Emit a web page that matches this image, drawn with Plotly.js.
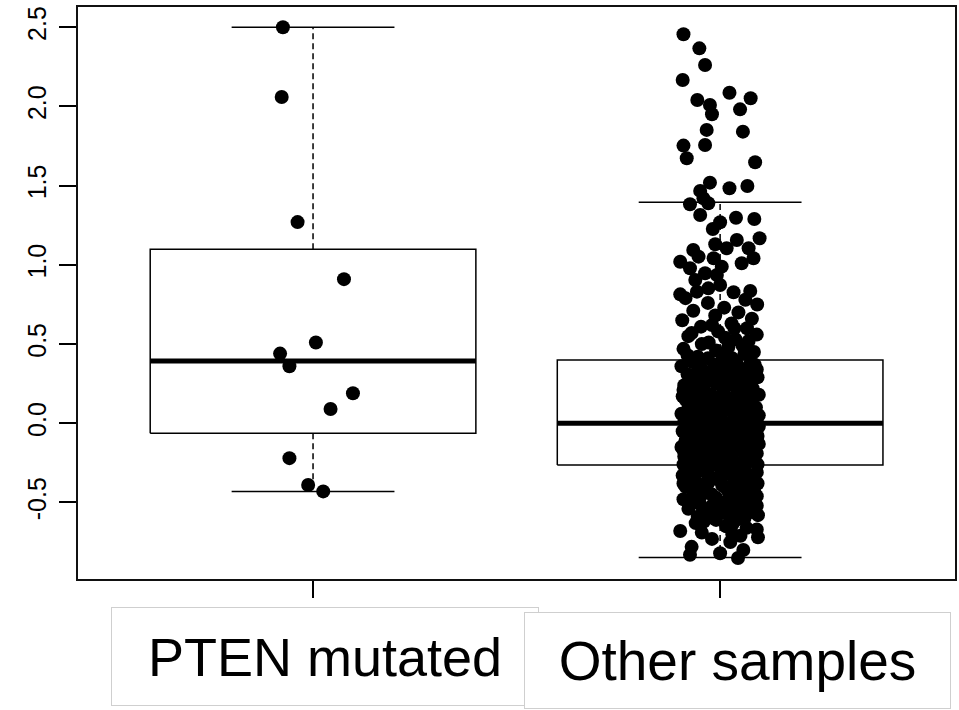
<!DOCTYPE html>
<html>
<head>
<meta charset="utf-8">
<script src="https://cdn.plot.ly/plotly-3.0.1.min.js"></script>
<style>
  html, body { margin: 0; padding: 0; background: #ffffff; }
  #chart { width: 959px; height: 710px; }
</style>
</head>
<body>
<div id="chart"></div>
<script>
// ---- categories ----
const groups = ['PTEN mutated', 'Other samples'];

// ---- box statistics (per group) ----
const boxQ1 = [-0.063, -0.263];
const boxMedian = [0.393, 0.0];
const boxQ3 = [1.098, 0.40];
const whiskerLow = [-0.431, -0.848];
const whiskerHigh = [2.50, 1.395];

// ---- PTEN mutated samples (values and horizontal jitter) ----
const ptenValues = [2.50, 2.06, 1.27, 0.91, 0.51, 0.44, 0.36, 0.19, 0.09, -0.22, -0.39, -0.43];
const ptenJitter = [-0.074, -0.077, -0.038, 0.076, 0.007, -0.081, -0.058, 0.098, 0.043, -0.058, -0.012, 0.025];

// ---- Other samples (values and horizontal jitter) ----
const otherValues = [
  2.456, 2.367, 2.262, 2.167, 2.087, 2.052, 2.041, 2.009, 1.982, 1.951,
  1.852, 1.841, 1.753, 1.757, 1.673, 1.648, 1.519, 1.467, 1.484, 1.498,
  1.420, 1.383, 1.389, 1.315, 1.269, 1.298, 1.290, 1.227, 1.157, 1.168,
  1.130, 1.094, 1.105, 1.105, 1.020, 1.052, 1.042, 0.989, 1.042, 1.010,
  0.979, 0.947, 0.936, 0.905, 0.873, 0.814, 0.831, 0.827, 0.835, 0.852,
  0.79, 0.78, 0.76, 0.75, 0.73, 0.71, 0.70, 0.68, 0.66, 0.65,
  0.63, 0.61, 0.60, 0.58, 0.56, 0.55, 0.53, 0.51, 0.49, 0.47,
  0.45, 0.43, 0.42, 0.41,
  0.39, 0.38, 0.37, 0.37, 0.36, 0.35, 0.34, 0.33, 0.32, 0.31,
  0.30, 0.29, 0.29, 0.28, 0.27, 0.26, 0.25, 0.24, 0.24, 0.23,
  0.22, 0.21, 0.20, 0.19, 0.18, 0.18, 0.17, 0.16, 0.15, 0.14,
  0.13, 0.12, 0.12, 0.11, 0.10, 0.09, 0.08, 0.08, 0.07, 0.06,
  0.06, 0.05, 0.04, 0.04, 0.03, 0.02, 0.02, 0.01, 0.01, 0.00,
  0.00, 0.34, 0.27, 0.21, 0.16, 0.10, 0.05, 0.31, 0.14, 0.07,
  0.19,
  -0.01, -0.01, -0.02, -0.03, -0.03, -0.04, -0.05, -0.05, -0.06, -0.07,
  -0.07, -0.08, -0.09, -0.09, -0.10, -0.11, -0.11, -0.12, -0.13, -0.13,
  -0.14, -0.15, -0.15, -0.16, -0.17, -0.17, -0.18, -0.19, -0.19, -0.20,
  -0.21, -0.21, -0.22, -0.23, -0.23, -0.24, -0.25, -0.25, -0.26, -0.26,
  -0.27, -0.27, -0.04, -0.08, -0.12, -0.16, -0.20, -0.24, -0.06, -0.10,
  -0.14, -0.18, -0.22, -0.02, -0.09, -0.17, -0.26, -0.11, -0.07, -0.13,
  -0.28, -0.29, -0.30, -0.31, -0.31, -0.32, -0.33, -0.34, -0.35, -0.36,
  -0.37, -0.38, -0.39, -0.40, -0.41, -0.42, -0.43, -0.44, -0.45, -0.46,
  -0.47, -0.48, -0.49, -0.50, -0.51, -0.52, -0.53, -0.54, -0.55, -0.57,
  -0.58, -0.58, -0.60, -0.61, -0.63, -0.65, -0.67, -0.68, -0.70, -0.72,
  -0.73, -0.75, -0.78, -0.80, -0.82, -0.83, -0.85, -0.35, -0.40, -0.44,
  -0.48, -0.52, -0.56, -0.62, -0.33, -0.38, -0.46, -0.29,
  0.62, 0.60, 0.57, 0.54, 0.52, 0.50, 0.48, 0.46, 0.44, 0.43,
  0.41, 0.39, 0.38, 0.36, 0.35, 0.33, 0.32, 0.30, 0.28, 0.27,
  0.25, 0.24, 0.22, 0.21, 0.19, 0.18, 0.16, 0.15, 0.14, 0.12,
  0.11, 0.09, 0.08, 0.07, 0.05, 0.04, 0.03, 0.01, 0.00, -0.01,
  -0.02, -0.04, -0.05, -0.06, -0.08, -0.09, -0.10, -0.12, -0.13, -0.14,
  -0.16, -0.17, -0.18, -0.20, -0.21, -0.22, -0.24, -0.25, -0.26, -0.28,
  -0.29, -0.30, -0.32, -0.33, -0.34, -0.36, -0.37, -0.38, -0.40, -0.41,
  -0.42, -0.43, -0.45, -0.46, -0.47, -0.49, -0.50, -0.51, -0.52, -0.54,
  -0.55, -0.56, -0.57, -0.59, -0.60, -0.61, -0.64, -0.66, -0.69, -0.71
];
const otherJitter = [
  -0.090, -0.051, -0.037, -0.092, 0.023, 0.075, -0.056, -0.025, 0.049, -0.020,
  -0.033, 0.056, -0.090, -0.037, -0.082, 0.086, -0.025, -0.049, 0.023, 0.067,
  -0.041, -0.074, -0.029, -0.049, 0.000, 0.039, 0.084, -0.018, 0.041, 0.097,
  -0.012, -0.066, 0.070, 0.016, -0.098, -0.053, -0.016, 0.004, 0.082, 0.053,
  -0.074, -0.037, -0.008, -0.061, 0.000, -0.098, -0.057, 0.033, 0.074, -0.029,
  -0.085, 0.062, -0.030, 0.091, 0.010, -0.066, 0.045, -0.012, 0.078, -0.093,
  0.028, -0.047, 0.066, -0.005, 0.090, -0.078, 0.038, -0.028, 0.055, -0.090,
  0.083, 0.005, -0.055, 0.030,
  -0.070, 0.040, -0.015, 0.085, -0.095, 0.020, -0.045, 0.065, 0.000, -0.080,
  0.050, -0.030, 0.092, 0.015, -0.060, 0.070, -0.010, -0.088, 0.035, -0.040,
  0.080, 0.008, -0.068, 0.055, -0.022, 0.095, -0.092, 0.028, -0.050, 0.072,
  -0.005, -0.078, 0.045, -0.032, 0.088, 0.012, -0.062, 0.060, -0.018, -0.095,
  0.033, -0.045, 0.078, 0.002, -0.075, 0.050, -0.028, 0.090, -0.088, 0.018,
  -0.055, 0.090, 0.048, -0.090, -0.012, -0.058, 0.095, 0.028, 0.020, 0.082,
  -0.070,
  0.065, -0.035, 0.010, -0.080, 0.085, 0.040, -0.020, -0.092, 0.058, 0.000,
  -0.065, 0.092, 0.025, -0.042, 0.070, -0.085, 0.008, -0.030, 0.050, 0.095,
  -0.060, 0.018, -0.095, 0.078, -0.015, 0.040, -0.072, 0.090, 0.002, -0.048,
  0.062, -0.088, 0.028, -0.025, 0.082, -0.062, 0.048, 0.000, -0.090, 0.092,
  -0.035, 0.030, -0.055, 0.035, 0.085, -0.040, 0.015, 0.072, -0.008, -0.070,
  0.060, 0.022, -0.005, 0.095, 0.080, -0.090, -0.010, 0.045, 0.052, -0.020,
  0.060, -0.075, 0.015, 0.090, -0.030, 0.045, -0.092, 0.075, -0.010, 0.035,
  -0.060, 0.092, 0.005, -0.085, 0.055, -0.035, 0.020, 0.085, -0.065, 0.040,
  -0.010, -0.090, 0.068, 0.010, -0.050, 0.090, 0.030, -0.078, 0.000, 0.060,
  -0.035, 0.093, -0.015, 0.040, -0.060, 0.015, 0.090, -0.098, 0.030, 0.093,
  -0.020, 0.025, -0.070, 0.057, 0.000, -0.074, 0.044, 0.060, 0.040, -0.040,
  0.030, -0.020, 0.045, -0.040, 0.000, -0.030, 0.070, 0.030,
  -0.020, 0.035, -0.070, 0.012, 0.070, -0.045, 0.020, -0.010, 0.060, -0.080,
  -0.030, 0.005, 0.075, -0.055, 0.048, -0.020, 0.088, -0.072, 0.032, -0.040,
  0.062, 0.010, -0.060, 0.042, -0.035, 0.072, 0.000, -0.085, 0.052, 0.025,
  -0.045, 0.068, -0.010, -0.080, 0.038, -0.060, 0.065, -0.015, 0.080, -0.075,
  0.042, 0.015, 0.075, -0.045, 0.055, -0.080, 0.022, -0.010, 0.068, -0.075,
  0.040, -0.045, 0.060, -0.018, 0.085, -0.068, 0.010, -0.040, 0.060, -0.085,
  0.042, -0.048, 0.015, 0.070, -0.065, -0.030, 0.050, -0.090, 0.010, 0.072,
  -0.060, 0.045, -0.020, 0.090, -0.050, 0.030, -0.075, 0.060, -0.005, 0.040,
  -0.040, 0.075, 0.015, -0.055, 0.060, -0.010, 0.030, 0.065, -0.045, 0.050
];

// ---- axis ticks ----
const yTickVals = [-0.5, 0, 0.5, 1, 1.5, 2, 2.5];
const yTickText = ['-0.5', '0.0', '0.5', '1.0', '1.5', '2.0', '2.5'];

// ---- build traces ----
const BOX_HALF = 0.4, CAP_HALF = 0.2;
const traces = [];
groups.forEach((g, i) => {
  const c = i + 1;
  traces.push({ type: 'scatter', mode: 'lines', hoverinfo: 'skip', showlegend: false,
    x: [c, c, null, c, c], y: [boxQ3[i], whiskerHigh[i], null, boxQ1[i], whiskerLow[i]],
    line: { color: '#000', width: 1.5, dash: '6px,4px' } });
  traces.push({ type: 'scatter', mode: 'lines', hoverinfo: 'skip', showlegend: false,
    x: [c - CAP_HALF, c + CAP_HALF, null, c - CAP_HALF, c + CAP_HALF],
    y: [whiskerHigh[i], whiskerHigh[i], null, whiskerLow[i], whiskerLow[i]],
    line: { color: '#000', width: 1.5 } });
  traces.push({ type: 'scatter', mode: 'lines', hoverinfo: 'skip', showlegend: false,
    x: [c - BOX_HALF, c + BOX_HALF, c + BOX_HALF, c - BOX_HALF, c - BOX_HALF],
    y: [boxQ1[i], boxQ1[i], boxQ3[i], boxQ3[i], boxQ1[i]],
    line: { color: '#000', width: 1.5 } });
  traces.push({ type: 'scatter', mode: 'lines', hoverinfo: 'skip', showlegend: false,
    x: [c - BOX_HALF, c + BOX_HALF], y: [boxMedian[i], boxMedian[i]],
    line: { color: '#000', width: 5 } });
});

const pointSets = [[ptenValues, ptenJitter], [otherValues, otherJitter]];
pointSets.forEach(([vals, jit], i) => {
  const n = Math.min(vals.length, jit.length);
  traces.push({ type: 'scatter', mode: 'markers', showlegend: false, name: groups[i],
    x: vals.slice(0, n).map((v, k) => i + 1 + jit[k]), y: vals.slice(0, n),
    marker: { color: '#000', size: 14 } });
});

const fontFam = '"Liberation Sans", Arial, Helvetica, sans-serif';
const layout = {
  width: 959, height: 710,
  margin: { l: 78, r: 4, t: 7, b: 131 },
  paper_bgcolor: '#fff', plot_bgcolor: '#fff',
  font: { family: fontFam, color: '#000' },
  showlegend: false,
  xaxis: {
    range: [0.4226, 2.577], tickvals: [1, 2], showticklabels: false,
    ticks: 'outside', ticklen: 17, tickwidth: 1.5, tickcolor: '#000',
    showline: true, linecolor: '#111', linewidth: 2, mirror: true,
    showgrid: false, zeroline: false, fixedrange: true
  },
  yaxis: {
    range: [-0.983, 2.628], tickvals: yTickVals, ticktext: yTickText,
    tickangle: -90, tickfont: { size: 25, family: fontFam, color: '#000' },
    ticklabelstandoff: 3,
    ticks: 'outside', ticklen: 17, tickwidth: 2, tickcolor: '#000',
    showline: true, linecolor: '#111', linewidth: 2, mirror: true,
    showgrid: false, zeroline: false, fixedrange: true
  },
  annotations: [
    { text: groups[0], xref: 'paper', yref: 'paper', x: 0.2816, y: -0.1355,
      xanchor: 'center', yanchor: 'middle', showarrow: false,
      width: 426, height: 97, bgcolor: '#fff', bordercolor: '#cfcfcf', borderwidth: 1, borderpad: 0,
      font: { size: 54, family: fontFam, color: '#000' } },
    { text: groups[1], xref: 'paper', yref: 'paper', x: 0.752, y: -0.1425,
      xanchor: 'center', yanchor: 'middle', showarrow: false,
      width: 425, height: 95, bgcolor: '#fff', bordercolor: '#cfcfcf', borderwidth: 1, borderpad: 0,
      font: { size: 55, family: fontFam, color: '#000' } }
  ]
};

Plotly.newPlot('chart', traces, layout, { displayModeBar: false, staticPlot: true });
</script>
</body>
</html>
